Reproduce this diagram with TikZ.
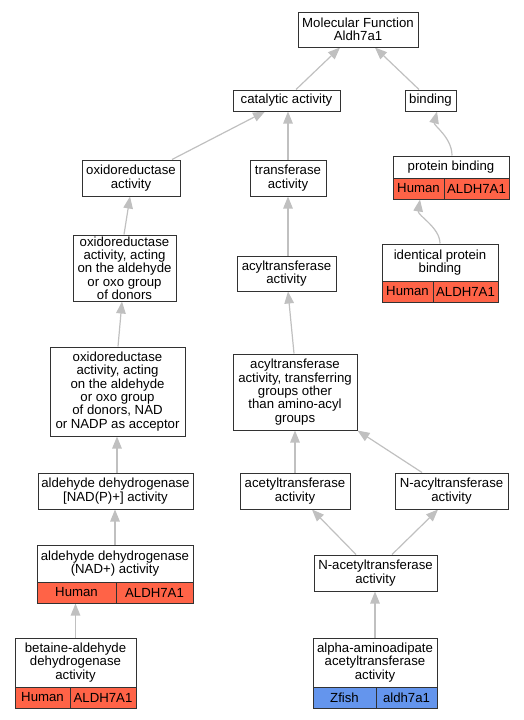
\documentclass[tikz,border=0pt]{standalone}
\usepackage{fontspec}
\setmainfont{Liberation Sans}
\usetikzlibrary{arrows.meta,backgrounds}
\definecolor{hum}{RGB}{255,99,71}
\definecolor{zf}{RGB}{100,149,237}
\definecolor{edgegray}{RGB}{192,192,192}
\definecolor{bord}{RGB}{50,50,50}
\newcommand{\fs}{\fontsize{13.2}{13.3}\selectfont}
\tikzset{
  box/.style={draw=bord, line width=1pt, fill=white, inner sep=0pt, align=center, font=\fs},
  cellr/.style={box, fill=hum},
  cellb/.style={box, fill=zf},
  edge/.style={draw=edgegray, line width=1.2pt, -{Triangle[length=12pt,width=9.5pt,fill=edgegray]}}
}
\begin{document}
\begin{tikzpicture}[x=1pt,y=-1pt]
\useasboundingbox (0,0) rectangle (524,720);
% plain boxes
\node[box, minimum width=120, minimum height=35] (mf) at (358,29.5) {Molecular Function\\Aldh7a1};
\node[box, minimum width=107, minimum height=21] (cat) at (286.5,100.5) {catalytic activity};
\node[box, minimum width=51, minimum height=21] (bind) at (430.5,100.5) {binding};
\node[box, minimum width=98, minimum height=36] (oxr) at (131,178) {oxidoreductase\\activity};
\node[box, minimum width=76, minimum height=36] (trans) at (288,178) {transferase\\activity};
\node[box, minimum width=103, minimum height=66] (oxald) at (124.5,268) {oxidoreductase\\activity, acting\\on the aldehyde\\or oxo group\\of donors};
\node[box, minimum width=99, minimum height=35] (acyl) at (286.5,273.5) {acyltransferase\\activity};
\node[box, minimum width=135, minimum height=89] (oxnad) at (117.5,391.5) {oxidoreductase\\activity, acting\\on the aldehyde\\or oxo group\\of donors, NAD\\or NADP as acceptor};
\node[box, minimum width=124, minimum height=76] (acyltr) at (295,392) {acyltransferase\\activity, transferring\\groups other\\than amino-acyl\\groups};
\node[box, minimum width=155, minimum height=36] (aldp) at (115.5,491) {aldehyde dehydrogenase\\{[NAD(P)+]} activity};
\node[box, minimum width=110, minimum height=36] (acet) at (295,491) {acetyltransferase\\activity};
\node[box, minimum width=113, minimum height=36] (nacyl) at (451.5,491) {N-acyltransferase\\activity};
\node[box, minimum width=123, minimum height=36] (nacet) at (375.5,573) {N-acetyltransferase\\activity};
% table boxes
\node[box, minimum width=116, minimum height=22] (pb) at (451,167) {protein binding};
\node[cellr, minimum width=51, minimum height=21] (pbh) at (418.5,188.5) {Human};
\node[cellr, minimum width=65, minimum height=21] (pbg) at (476.5,188.5) {ALDH7A1};
\node[box, minimum width=116, minimum height=37] (ipb) at (440,262.5) {identical protein\\binding};
\node[cellr, minimum width=51, minimum height=21] (ipbh) at (407.5,291.5) {Human};
\node[cellr, minimum width=65, minimum height=21] (ipbg) at (465.5,291.5) {ALDH7A1};
\node[box, minimum width=156, minimum height=37] (aldn) at (115,563.5) {aldehyde dehydrogenase\\(NAD+) activity};
\node[cellr, minimum width=79, minimum height=21] (aldnh) at (76.5,592.5) {Human};
\node[cellr, minimum width=77, minimum height=21] (aldng) at (154.5,592.5) {ALDH7A1};
\node[box, minimum width=121, minimum height=49] (bet) at (75.5,662.5) {betaine-aldehyde\\dehydrogenase\\activity};
\node[cellr, minimum width=55, minimum height=21] (beth) at (42.5,697.5) {Human};
\node[cellr, minimum width=66, minimum height=21] (betg) at (103,697.5) {ALDH7A1};
\node[box, minimum width=124, minimum height=49] (alpha) at (375,662.5) {alpha-aminoadipate\\acetyltransferase\\activity};
\node[cellb, minimum width=63, minimum height=21] (alphah) at (344.5,697.5) {Zfish};
\node[cellb, minimum width=61, minimum height=21] (alphag) at (406.5,697.5) {aldh7a1};
% edges
\begin{scope}[on background layer]
\draw[edge] ([xshift=9.5]cat.north) -- ([xshift=-18]mf.south);
\draw[edge] ([xshift=-11.5]bind.north) -- ([xshift=17]mf.south);
\draw[edge] ([xshift=41]oxr.north) -- ([xshift=-21.5]cat.south);
\draw[edge] (trans.north) -- ([xshift=1.5]cat.south);
\draw[edge] ([xshift=1]pb.north) .. controls ([xshift=1,yshift=18]pb.north) and ([xshift=3,yshift=-14]bind.south) .. ([xshift=6.5]bind.south);
\draw[edge] ([xshift=-0.5]oxald.north) -- ([xshift=-1]oxr.south);
\draw[edge] ([xshift=1.5]acyl.north) -- (trans.south);
\draw[edge] (ipb.north) .. controls ([yshift=16]ipb.north) and ([xshift=-1,yshift=-16]pbh.south) .. ([xshift=1.5]pbh.south);
\draw[edge] ([xshift=0.5]oxnad.north) -- ([xshift=-2.5]oxald.south);
\draw[edge] ([xshift=-1]acyltr.north) -- ([xshift=1.5]acyl.south);
\draw[edge] ([xshift=1.5]aldp.north) -- ([xshift=-0.5]oxnad.south);
\draw[edge] (acet.north) -- (acet.north |- acyltr.south);
\draw[edge] ([xshift=-29.5]nacyl.north) -- (acyltr.south east);
\draw[edge] (aldn.north) -- (aldn.north |- aldp.south);
\draw[edge] ([xshift=-19.5]nacet.north) -- ([xshift=17]acet.south);
\draw[edge] ([xshift=16.5]nacet.north) -- ([xshift=-13.5]nacyl.south);
\draw[edge] (bet.north) -- (bet.north |- aldnh.south);
\draw[edge] (alpha.north) -- (alpha.north |- nacet.south);
\end{scope}
\end{tikzpicture}
\end{document}
